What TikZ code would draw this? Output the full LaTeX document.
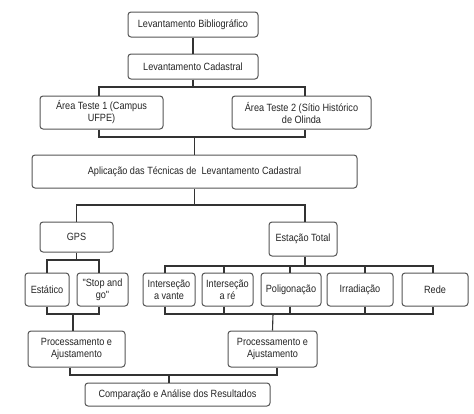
\documentclass[tikz,border=0pt]{standalone}
\usepackage{fontspec}
\setmainfont{Liberation Sans}
\newfontfamily\narrowsans[FakeStretch=0.87]{Liberation Sans}
\begin{document}
\begin{tikzpicture}[x=1pt,y=-1pt,
  box/.style={draw=boxgray, line width=1pt, rounded corners=3pt, fill=white,
    inner sep=1pt, align=center, font=\narrowsans\fontsize{10.5}{12}\selectfont, text=black!85},
  conn/.style={draw=linegray, line width=1.1pt}]
\definecolor{boxgray}{HTML}{555555}
\definecolor{linegray}{HTML}{333333}
\useasboundingbox (0,0) rectangle (474,413);
\fill[white] (0,0) rectangle (474,413);
% nodes
\node[box, minimum width=130, minimum height=25] (b1) at (193,24.5) {Levantamento Bibliográfico};
\node[box, minimum width=130, minimum height=25] (b2) at (193,66.5) {Levantamento Cadastral};
\node[box, minimum width=123, minimum height=33] (a1) at (101.5,112.5) {Área Teste 1 (Campus\\UFPE)};
\node[box, minimum width=139, minimum height=33] (a2) at (301.5,112.5) {Área Teste 2 (Sítio Histórico\\de Olinda};
\node[box, minimum width=325, minimum height=33] (ap) at (194.5,171.5) {Aplicação das Técnicas de\ \ Levantamento Cadastral};
\node[box, minimum width=73, minimum height=30] (gps) at (76.5,237) {GPS};
\node[box, minimum width=68, minimum height=34] (est) at (303,239) {Estação Total};
\node[box, minimum width=44, minimum height=33] (e1) at (47,289.5) {Estático};
\node[box, minimum width=51, minimum height=33] (e2) at (102.5,289.5) {"Stop and\\go"};
\node[box, minimum width=52, minimum height=33] (i1) at (169,289.5) {Interseção\\a vante};
\node[box, minimum width=51, minimum height=33] (i2) at (227.5,289.5) {Interseção\\a ré};
\node[box, minimum width=60, minimum height=33] (p) at (291,289.5) {Poligonação};
\node[box, minimum width=66, minimum height=33] (ir) at (360,289.5) {Irradiação};
\node[box, minimum width=66, minimum height=33] (r) at (435,289.5) {Rede};
\node[box, minimum width=97, minimum height=36] (pr1) at (76.5,349) {Processamento e\\Ajustamento};
\node[box, minimum width=89, minimum height=36] (pr2) at (272.5,349) {Processamento e\\Ajustamento};
\node[box, minimum width=185, minimum height=23] (c) at (177.5,394.5) {Comparação e Análise dos Resultados};
% bus coordinates
\coordinate (j1) at (193,87);
\coordinate (j2) at (194.5,137);
\coordinate (j3) at (194.5,205);
\coordinate (j4) at (76.5,260);
\coordinate (j5) at (303,266);
\coordinate (j6) at (73,314);
\coordinate (j7) at (273,314);
\coordinate (j8) at (169,375);
% connectors
\draw[conn] (b1) -- (b2);
\draw[conn] (b2.south) -- (j1);
\draw[conn] ([xshift=-2.5]a1.north) |- (j1) -| ([xshift=3.5]a2.north);
\draw[conn] ([xshift=-2.5]a1.south) |- (j2) -| ([xshift=3.5]a2.south);
\draw[conn] (j2) -- (ap.north);
\draw[conn] (ap.south) -- (j3);
\draw[conn] (gps.north) |- (j3) -| ([xshift=2]est.north);
\draw[conn] (gps.south) -- (j4);
\draw[conn] (e1.north) |- (j4) -| ([xshift=-3.5]e2.north);
\draw[conn] ([xshift=2]est.south) -- ([xshift=2]j5);
\draw[conn] ([xshift=-4]i1.north) |- ([xshift=2]j5) -| ([xshift=-2]r.north);
\draw[conn] ([xshift=-3.5]i2.north) -- ([xshift=-3.5]i2.north |- j5);
\draw[conn] ([xshift=-1]p.north) -- ([xshift=-1]p.north |- j5);
\draw[conn] ([xshift=5]ir.north) -- ([xshift=5]ir.north |- j5);
\draw[conn] (e1.south) |- (j6) -| ([xshift=-3.5]e2.south);
\draw[conn] (j6) -- ([xshift=-3.5]pr1.north);
\draw[conn] ([xshift=-4]i1.south) |- (j7) -| ([xshift=-2]r.south);
\draw[conn] ([xshift=-3.5]i2.south) -- ([xshift=-3.5]i2.south |- j7);
\draw[conn] ([xshift=-1]p.south) -- ([xshift=-1]p.south |- j7);
\draw[conn] ([xshift=5]ir.south) -- ([xshift=5]ir.south |- j7);
\draw[conn] (j7) -- (pr2.north);
\draw[conn] ([xshift=-6.5]pr1.south) |- (j8) -| ([xshift=4.5]pr2.south);
\draw[conn] (j8) -- ([xshift=-8.5]c.north);
\end{tikzpicture}
\end{document}
